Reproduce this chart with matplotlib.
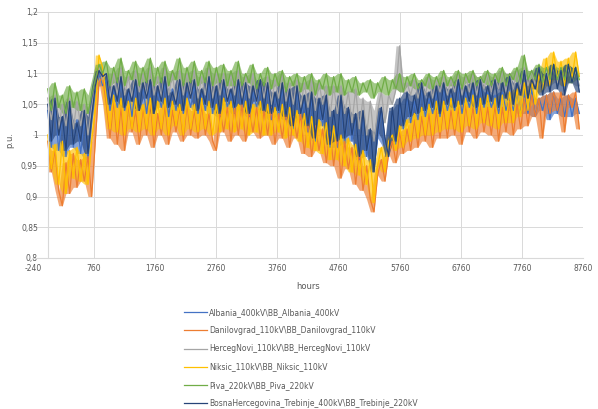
import numpy as np
import matplotlib
matplotlib.use("Agg")
import matplotlib.pyplot as plt

# ---------------- data ----------------
hours = np.arange(0, 8760, 60)  # 146 samples

albania = [
    1.04, 0.98, 1.05, 0.975, 1.03, 0.965, 1.045, 0.98, 1.025, 0.97,
    1.025, 0.96, 1.02, 1.07, 1.10, 1.08, 1.09, 1.04, 1.075, 1.045,
    1.085, 1.04, 1.07, 1.03, 1.08, 1.045, 1.075, 1.035, 1.085, 1.04,
    1.07, 1.045, 1.085, 1.03, 1.075, 1.04, 1.08, 1.035, 1.07, 1.045,
    1.08, 1.035, 1.07, 1.04, 1.085, 1.035, 1.075, 1.03, 1.08, 1.045,
    1.07, 1.035, 1.085, 1.04, 1.075, 1.03, 1.07, 1.045, 1.08, 1.035,
    1.075, 1.025, 1.065, 1.03, 1.075, 1.025, 1.065, 1.01, 1.07, 1.025,
    1.055, 1.005, 1.06, 0.99, 1.055, 1.015, 1.055, 0.98, 1.04, 0.98,
    1.055, 0.985, 1.04, 0.99, 1.03, 0.96, 1.03, 0.965, 1.0, 0.945,
    0.995, 1.04, 0.985, 0.97, 1.04, 0.985, 1.05, 1.01, 1.06, 1.02,
    1.055, 1.025, 1.075, 1.03, 1.06, 1.035, 1.07, 1.03, 1.075, 1.04,
    1.065, 1.04, 1.08, 1.035, 1.07, 1.045, 1.075, 1.035, 1.08, 1.045,
    1.07, 1.045, 1.065, 1.035, 1.07, 1.04, 1.06, 1.04, 1.07, 1.035,
    1.065, 1.035, 1.075, 1.03, 1.06, 1.04, 1.065, 1.025, 1.07, 1.035,
    1.06, 1.03, 1.065, 1.03, 1.06, 1.035,
]

danilovgrad = [
    0.99, 0.94, 0.975, 0.91, 0.885, 0.955, 0.905, 0.97, 0.915, 0.96,
    0.925, 0.965, 0.90, 0.99, 1.085, 1.095, 1.05, 0.995, 1.055, 0.985,
    1.045, 0.975, 1.05, 1.005, 1.04, 0.985, 1.045, 1.0, 1.055, 0.98,
    1.035, 1.0, 1.05, 0.985, 1.04, 1.005, 1.045, 0.99, 1.05, 1.0,
    1.04, 0.995, 1.05, 1.0, 1.035, 0.99, 0.975, 1.04, 1.005, 1.045,
    0.99, 1.045, 1.0, 1.05, 0.99, 1.04, 1.005, 1.045, 0.995, 1.04,
    1.0, 1.045, 0.985, 1.035, 0.995, 1.04, 0.98, 1.03, 0.995, 1.035,
    0.97, 1.025, 0.965, 1.015, 0.975, 1.01, 0.955, 1.005, 0.95, 1.0,
    0.93, 0.99, 0.945, 0.98, 0.92, 0.975, 0.91, 0.95, 0.895, 0.875,
    0.935, 0.96, 0.925, 0.97, 0.99, 0.955, 1.005, 0.97, 1.01, 0.975,
    1.025, 0.98, 1.03, 0.99, 1.035, 0.98, 1.04, 0.995, 1.045, 0.995,
    1.04, 1.0, 1.045, 0.985, 1.05, 1.005, 1.045, 0.995, 1.05, 1.005,
    1.045, 1.0, 1.05, 0.99, 1.045, 1.005, 1.055, 1.0, 1.05, 1.01,
    1.06, 1.015, 1.065, 1.03, 1.06, 0.995, 1.065, 1.035, 1.07, 1.04,
    1.07, 1.005, 1.065, 1.045, 1.07, 1.01,
]

hercegnovi = [
    1.06, 1.025, 1.065, 1.01, 1.05, 1.015, 1.06, 1.01, 1.055, 1.015,
    1.05, 1.0, 1.045, 1.08, 1.11, 1.09, 1.10, 1.06, 1.10, 1.065,
    1.11, 1.065, 1.095, 1.06, 1.105, 1.07, 1.10, 1.06, 1.11, 1.065,
    1.095, 1.06, 1.11, 1.065, 1.10, 1.055, 1.105, 1.065, 1.10, 1.06,
    1.105, 1.06, 1.095, 1.065, 1.11, 1.06, 1.10, 1.065, 1.10, 1.06,
    1.10, 1.065, 1.105, 1.06, 1.095, 1.06, 1.10, 1.055, 1.09, 1.06,
    1.095, 1.05, 1.09, 1.06, 1.10, 1.055, 1.085, 1.05, 1.09, 1.045,
    1.085, 1.045, 1.09, 1.04, 1.085, 1.05, 1.08, 1.03, 1.08, 1.035,
    1.08, 1.035, 1.07, 1.02, 1.075, 1.01, 1.06, 1.0, 1.055, 0.99,
    1.04, 1.07, 1.02, 1.065, 1.05, 1.075, 1.145, 1.07, 1.085, 1.065,
    1.09, 1.06, 1.085, 1.065, 1.095, 1.06, 1.09, 1.07, 1.095, 1.065,
    1.09, 1.07, 1.10, 1.065, 1.095, 1.07, 1.10, 1.065, 1.095, 1.075,
    1.10, 1.07, 1.095, 1.075, 1.105, 1.07, 1.10, 1.075, 1.105, 1.075,
    1.11, 1.08, 1.105, 1.08, 1.11, 1.085, 1.105, 1.08, 1.11, 1.085,
    1.105, 1.08, 1.11, 1.085, 1.105, 1.08,
]

niksic = [
    1.0, 0.945, 0.985, 0.92, 0.99, 0.905, 0.975, 0.93, 0.98, 0.925,
    0.97, 0.92, 0.99, 1.04, 1.13, 1.11, 1.06, 1.01, 1.065, 1.005,
    1.06, 1.0, 1.055, 1.01, 1.06, 1.005, 1.05, 1.01, 1.06, 1.0,
    1.055, 1.01, 1.06, 1.0, 1.055, 1.015, 1.05, 1.0, 1.06, 1.01,
    1.05, 1.005, 1.06, 1.01, 1.055, 1.0, 1.05, 1.005, 1.06, 1.01,
    1.055, 1.005, 1.05, 1.01, 1.055, 1.0, 1.05, 1.005, 1.055, 1.0,
    1.05, 1.0, 1.045, 1.005, 1.05, 0.995, 1.045, 1.0, 1.04, 0.99,
    1.035, 0.98, 1.03, 0.975, 1.025, 0.97, 1.02, 0.96, 1.015, 0.96,
    1.0, 0.95, 0.995, 0.94, 0.985, 0.935, 0.975, 0.92, 0.96, 0.89,
    0.95, 0.98, 0.94, 0.99, 1.0, 0.975, 1.015, 0.98, 1.025, 0.99,
    1.035, 0.995, 1.045, 1.0, 1.05, 1.0, 1.055, 1.005, 1.055, 1.01,
    1.06, 1.01, 1.055, 1.005, 1.06, 1.015, 1.065, 1.01, 1.06, 1.02,
    1.065, 1.015, 1.06, 1.01, 1.065, 1.02, 1.07, 1.02, 1.075, 1.03,
    1.085, 1.04, 1.09, 1.05, 1.10, 1.07, 1.125, 1.08, 1.135, 1.09,
    1.12, 1.08, 1.125, 1.09, 1.135, 1.095,
]

piva = [
    1.075, 1.04, 1.085, 1.045, 1.065, 1.035, 1.08, 1.045, 1.07, 1.04,
    1.075, 1.035, 1.065, 1.09, 1.115, 1.10, 1.12, 1.08, 1.11, 1.085,
    1.125, 1.08, 1.105, 1.09, 1.12, 1.08, 1.11, 1.085, 1.125, 1.08,
    1.11, 1.085, 1.12, 1.08, 1.105, 1.09, 1.125, 1.08, 1.11, 1.085,
    1.12, 1.08, 1.105, 1.085, 1.12, 1.08, 1.11, 1.085, 1.115, 1.08,
    1.105, 1.08, 1.12, 1.08, 1.10, 1.085, 1.115, 1.075, 1.10, 1.08,
    1.11, 1.075, 1.10, 1.08, 1.105, 1.07, 1.095, 1.08, 1.10, 1.07,
    1.095, 1.075, 1.10, 1.065, 1.09, 1.075, 1.10, 1.065, 1.095, 1.07,
    1.10, 1.065, 1.09, 1.07, 1.095, 1.065, 1.085, 1.07, 1.09, 1.06,
    1.085, 1.07, 1.095, 1.065, 1.09, 1.075, 1.10, 1.07, 1.095, 1.08,
    1.10, 1.075, 1.09, 1.08, 1.10, 1.075, 1.095, 1.08, 1.105, 1.08,
    1.095, 1.08, 1.105, 1.075, 1.10, 1.085, 1.105, 1.08, 1.095, 1.085,
    1.105, 1.08, 1.10, 1.085, 1.11, 1.08, 1.10, 1.09, 1.11, 1.085,
    1.13, 1.09, 1.105, 1.09, 1.115, 1.085, 1.11, 1.09, 1.115, 1.09,
    1.11, 1.09, 1.115, 1.085, 1.11, 1.09,
]

trebinje = [
    1.05, 0.99, 1.06, 1.0, 1.03, 0.975, 1.055, 0.985, 1.02, 0.99,
    1.04, 0.97, 1.03, 1.08, 1.105, 1.095, 1.10, 1.05, 1.08, 1.055,
    1.095, 1.045, 1.075, 1.055, 1.09, 1.04, 1.085, 1.06, 1.09, 1.035,
    1.08, 1.055, 1.095, 1.045, 1.07, 1.05, 1.09, 1.04, 1.085, 1.06,
    1.09, 1.04, 1.075, 1.05, 1.095, 1.045, 1.08, 1.035, 1.09, 1.055,
    1.075, 1.045, 1.09, 1.05, 1.085, 1.035, 1.08, 1.055, 1.09, 1.04,
    1.085, 1.035, 1.07, 1.04, 1.085, 1.03, 1.075, 1.015, 1.08, 1.035,
    1.065, 1.015, 1.07, 0.995, 1.06, 1.025, 1.065, 0.985, 1.04, 0.99,
    1.065, 0.995, 1.045, 1.0, 1.035, 0.965, 1.04, 0.975, 1.01, 0.94,
    1.005, 1.045, 0.995, 0.965, 1.045, 0.99, 1.06, 1.015, 1.07, 1.03,
    1.065, 1.035, 1.085, 1.04, 1.07, 1.045, 1.08, 1.035, 1.085, 1.05,
    1.075, 1.045, 1.09, 1.05, 1.08, 1.055, 1.085, 1.045, 1.09, 1.05,
    1.08, 1.055, 1.09, 1.045, 1.085, 1.06, 1.095, 1.05, 1.085, 1.065,
    1.105, 1.06, 1.09, 1.075, 1.11, 1.065, 1.10, 1.07, 1.115, 1.075,
    1.105, 1.065, 1.115, 1.085, 1.11, 1.07,
]

series_names = [
    "Albania_400kV\\BB_Albania_400kV",
    "Danilovgrad_110kV\\BB_Danilovgrad_110kV",
    "HercegNovi_110kV\\BB_HercegNovi_110kV",
    "Niksic_110kV\\BB_Niksic_110kV",
    "Piva_220kV\\BB_Piva_220kV",
    "BosnaHercegovina_Trebinje_400kV\\BB_Trebinje_220kV",
]
series_values = [albania, danilovgrad, hercegnovi, niksic, piva, trebinje]
series_colors = ["#4472C4", "#ED7D31", "#A5A5A5", "#FFC000", "#70AD47", "#264478"]

xticks = [-240, 760, 1760, 2760, 3760, 4760, 5760, 6760, 7760, 8760]
yticks = [0.8, 0.85, 0.9, 0.95, 1.0, 1.05, 1.1, 1.15, 1.2]
ytick_labels = ["0,8", "0,85", "0,9", "0,95", "1", "1,05", "1,1", "1,15", "1,2"]

# ---------------- plot ----------------
W, H = 598, 409
fig = plt.figure(figsize=(W / 100, H / 100), dpi=100)
ax = fig.add_axes([33 / W, 1 - 258 / H, 550 / W, 246 / H])

for name, vals, col in zip(series_names, series_values, series_colors):
    v = np.asarray(vals)
    # band between each sample and its next neighbour (dense hourly noise)
    next_v = np.concatenate([v[1:], v[-1:]])
    lo = np.minimum(v, next_v)
    hi = np.maximum(v, next_v)
    ax.fill_between(hours, lo, hi, color=col, alpha=0.65, lw=0)
    ax.plot(hours, v, color=col, lw=0.9, label=name)

ax.set_xlim(-240, 8760)
ax.set_ylim(0.8, 1.2)
ax.set_xticks(xticks)
ax.set_xticklabels([str(t) for t in xticks])
ax.set_yticks(yticks)
ax.set_yticklabels(ytick_labels)

grid_col = "#D9D9D9"
ax.grid(True, color=grid_col, lw=0.7)
ax.set_axisbelow(True)
ax.get_xgridlines()[0].set_visible(False)

for s in ["top", "right"]:
    ax.spines[s].set_visible(False)
ax.spines["left"].set_position(("data", 0))
ax.spines["left"].set_color(grid_col)
ax.spines["bottom"].set_color(grid_col)

txt_col = "#595959"
ax.tick_params(axis="x", length=0, labelsize=5.5, labelcolor=txt_col, pad=4)
ax.tick_params(axis="y", length=0, labelsize=5.5, labelcolor=txt_col, pad=7)

ax.set_xlabel("hours", fontsize=6, color=txt_col, labelpad=7)
fig.text(10 / W, 1 - 140 / H, "p.u.", rotation=90, fontsize=6, color=txt_col,
         ha="center", va="center")

handles, labels = ax.get_legend_handles_labels()
fig.legend(handles, labels, loc="upper left",
           bbox_to_anchor=(184 / W, 1 - 308 / H), frameon=False,
           fontsize=5.5, labelcolor=txt_col, handlelength=3.0,
           handletextpad=0.3, labelspacing=1.2, borderaxespad=0,
           borderpad=0)

fig.savefig("out.png", dpi=100)
